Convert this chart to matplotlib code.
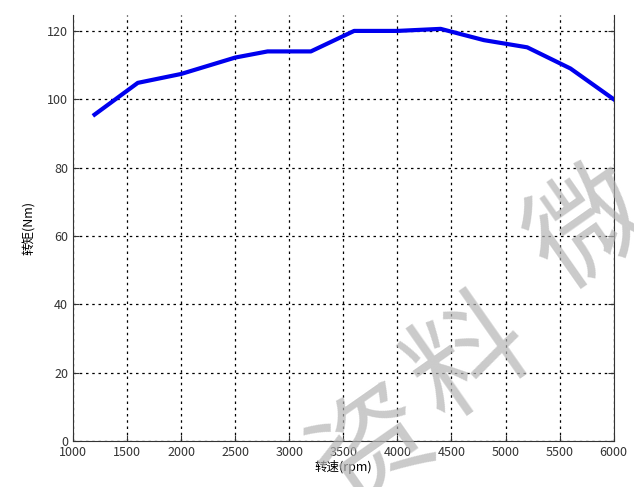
import numpy as np
import matplotlib
matplotlib.use('Agg')
from matplotlib import pyplot as plt

plt.rcParams['font.family'] = ['Noto Sans CJK SC', 'DejaVu Sans']

# engine speed (rpm) and torque (Nm)
speed = [1200, 1600, 2000, 2500, 2800, 3200, 3600, 4000, 4400, 4800, 5200, 5600, 6000]
torque = [95.5, 104.8, 107.4, 112.2, 114.0, 114.0, 120.0, 120.0, 120.6, 117.3, 115.2, 109.0, 100.0]

x_ticks = [1000, 1500, 2000, 2500, 3000, 3500, 4000, 4500, 5000, 5500, 6000]
y_ticks = [0, 20, 40, 60, 80, 100, 120]

fig = plt.figure(figsize=(6.34, 4.87), dpi=100)
ax = fig.add_axes([0.115, 0.0945, 0.853, 0.875])

ax.plot(speed, torque, color='#0000ee', linewidth=3, zorder=3)

ax.set_xlim(1000, 6000)
ax.set_ylim(0, 124.7)
ax.set_xticks(x_ticks)
ax.set_yticks(y_ticks)
ax.tick_params(direction='in', labelsize=9, colors='#333333', right=True, length=4)
ax.grid(True, color='black', linestyle=(0, (2, 3)), linewidth=0.9)
ax.spines['top'].set_visible(False)
for s in ['left', 'right', 'bottom']:
    ax.spines[s].set_color('#333333')

ax.set_xlabel('转速(rpm)', fontsize=9, labelpad=1)
ax.set_ylabel('转矩(Nm)', fontsize=9, labelpad=8)

# faint watermark characters, partly off the edges as in the reference
wm = dict(fontsize=84, color='#b4b4b4', rotation=35, ha='center', va='center',
          alpha=0.7, zorder=10)
fig.text(0.741, 0.261, '料', **wm)
fig.text(0.59, 0.076, '资', **wm)
fig.text(0.93, 0.528, '微', **wm)

fig.savefig('out.png', dpi=100)
